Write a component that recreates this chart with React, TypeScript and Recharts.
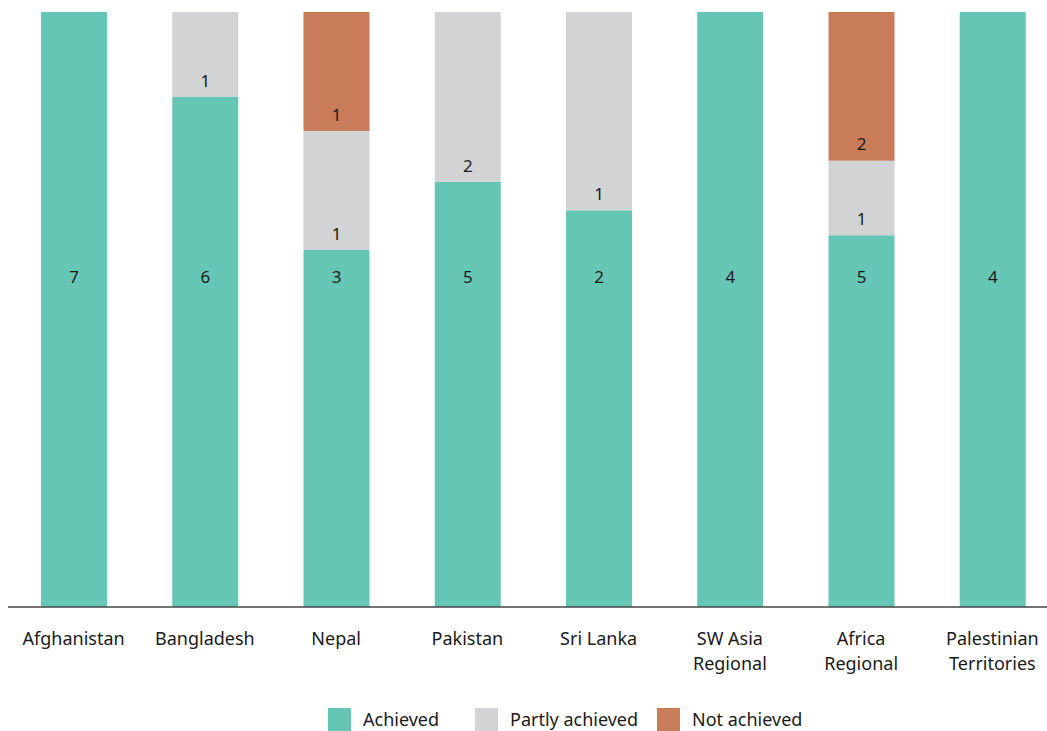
import React from 'react';
import { BarChart, Bar, XAxis, YAxis, Legend, LabelList } from 'recharts';

const categories = [
  'Afghanistan',
  'Bangladesh',
  'Nepal',
  'Pakistan',
  'Sri Lanka',
  'SW Asia\nRegional',
  'Africa\nRegional',
  'Palestinian\nTerritories',
];
const achieved = [7, 6, 3, 5, 2, 4, 5, 4];
const partlyAchieved = [0, 1, 1, 2, 1, 0, 1, 0];
const notAchieved = [0, 0, 1, 0, 0, 0, 2, 0];

const series = [
  { key: 'achieved', name: 'Achieved', color: '#66c6b6' },
  { key: 'partly', name: 'Partly achieved', color: '#d2d3d5' },
  { key: 'not', name: 'Not achieved', color: '#c87c5a' },
];
const legendItemWidths = [147, 182, 160];

const data = categories.map((c, i) => ({
  name: c,
  achieved: achieved[i],
  partly: partlyAchieved[i],
  not: notAchieved[i],
}));

const FONT = '"Noto Sans", "Open Sans", sans-serif';

const CategoryTick = (props: any) => {
  const { x, y, payload } = props;
  const lines = String(payload.value).split('\n');
  return (
    <text x={x} y={y} textAnchor="middle" fill="#1a1a1a" fontSize={18} fontFamily={FONT}>
      {lines.map((l, i) => (
        <tspan key={i} x={x} dy={i === 0 ? 30 : 25}>
          {l}
        </tspan>
      ))}
    </text>
  );
};

const makeLabel = (fromBottom: number) => (props: any) => {
  const { x, y, width, height, value } = props;
  if (!value) return null;
  return (
    <text
      x={x + width / 2}
      y={y + height - fromBottom}
      textAnchor="middle"
      dominantBaseline="central"
      fill="#1a1a1a"
      fontSize={17}
      fontFamily={FONT}
    >
      {value}
    </text>
  );
};

const LegendContent = () => (
  <div style={{ display: 'flex', paddingLeft: 320, paddingTop: 10, fontFamily: FONT, fontSize: 18, color: '#1a1a1a' }}>
    {series.map((s, i) => (
      <div key={s.key} style={{ display: 'flex', alignItems: 'center', width: legendItemWidths[i] }}>
        <span style={{ width: 23, height: 23, background: s.color, display: 'inline-block', marginRight: 12, flexShrink: 0 }} />
        <span style={{ whiteSpace: 'nowrap' }}>{s.name}</span>
      </div>
    ))}
  </div>
);

export default function App() {
  return (
    <>
      <style>{'html, body { margin: 0; overflow: hidden; }'}</style>
      <BarChart
        width={1058}
        height={731}
        data={data}
        stackOffset="expand"
        barSize={66}
        margin={{ top: 12, right: 0, left: 8, bottom: 0 }}
      >
        <XAxis
          dataKey="name"
          interval={0}
          tickLine={false}
          axisLine={{ stroke: '#444', strokeWidth: 1.5 }}
          height={90}
          tick={<CategoryTick />}
        />
        <YAxis hide domain={[0, 1]} />
        <Legend verticalAlign="bottom" height={34} content={<LegendContent />} />
        <Bar dataKey="achieved" stackId="a" fill="#66c6b6" isAnimationActive={false}>
          <LabelList dataKey="achieved" content={makeLabel(331)} />
        </Bar>
        <Bar dataKey="partly" stackId="a" fill="#d2d3d5" isAnimationActive={false}>
          <LabelList dataKey="partly" content={makeLabel(17)} />
        </Bar>
        <Bar dataKey="not" stackId="a" fill="#c87c5a" isAnimationActive={false}>
          <LabelList dataKey="not" content={makeLabel(17)} />
        </Bar>
      </BarChart>
    </>
  );
}
